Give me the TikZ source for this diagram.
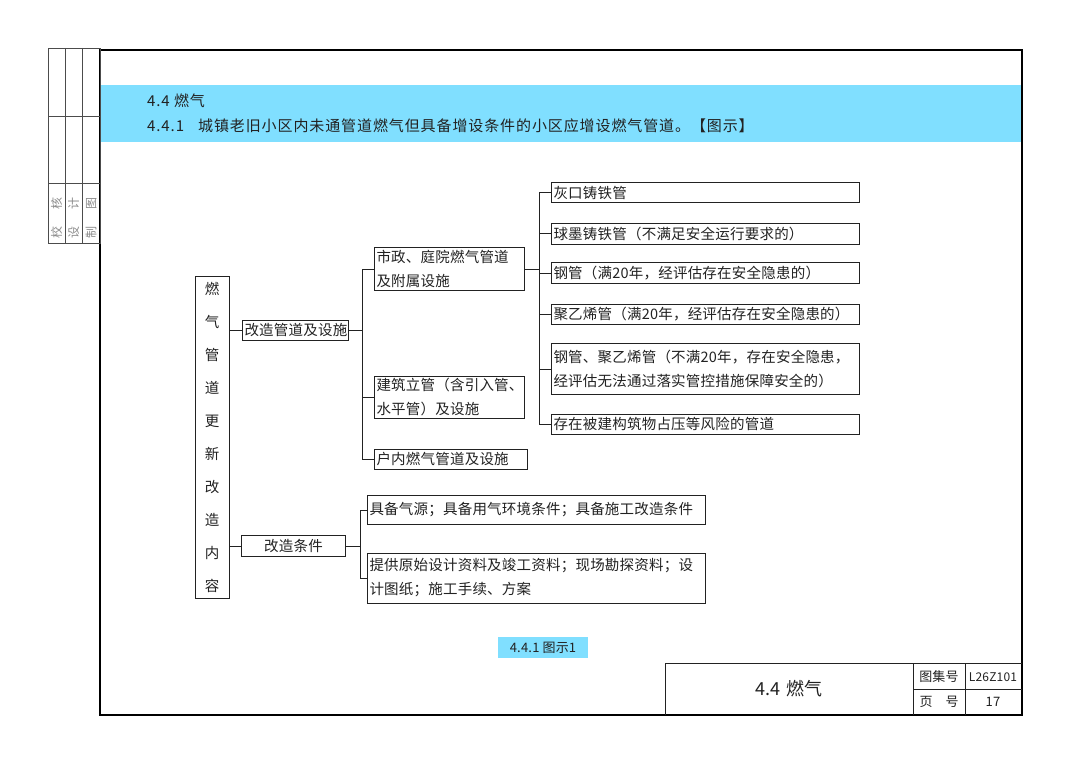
\documentclass[tikz,border=0pt]{standalone}
\usepackage{fontspec}
\setmainfont[LetterSpace=1.5]{Noto Sans CJK SC}
\newfontfamily\widefont[LetterSpace=6]{Noto Sans CJK SC}
\usetikzlibrary{positioning,calc}

\definecolor{bandblue}{HTML}{80DFFF}
\definecolor{inkgray}{HTML}{222222}

\tikzset{
  box/.style={draw=inkgray, line width=1pt, anchor=west, inner xsep=2pt, inner ysep=0pt,
    align=left, text=inkgray, font=\fontsize{14.5}{24}\selectfont},
  link/.style={draw=inkgray, line width=1pt},
  lbl/.style={text=inkgray, inner sep=0pt},
}

\begin{document}
\begin{tikzpicture}[x=1pt,y=-1pt]
  % Page
  \fill[white] (0,0) rectangle (1080,765);
  \useasboundingbox (0,0) rectangle (1080,765);

  % Header band
  \fill[bandblue] (101,85) rectangle (1021,142);
  \node[lbl, anchor=west, font=\widefont\fontsize{15}{15}\selectfont] (sec) at (147,101) {4.4 燃气};
  \node[lbl, anchor=west, font=\widefont\fontsize{15}{15}\selectfont] (sub) at (147,126)
    {4.4.1\hspace{14pt}城镇老旧小区内未通管道燃气但具备增设条件的小区应增设燃气管道。【图示】};

  % Frame
  \draw[line width=2.5pt] (100,50) rectangle (1022,715);

  % Side strip
  \draw[black!70, line width=0.8pt] (48,48) rectangle (100,243);
  \draw[black!70, line width=0.8pt] (65,48) -- (65,243) (82,48) -- (82,243)
    (48,116) -- (100,116) (48,183) -- (100,183);
  \node[lbl, rotate=90, text=black!45, font=\fontsize{12}{12}\selectfont] (chk) at (56.5,218) {校\hspace{17pt}核};
  \node[lbl, rotate=90, text=black!45, font=\fontsize{12}{12}\selectfont] (dsn) at (73.5,218) {设\hspace{17pt}计};
  \node[lbl, rotate=90, text=black!45, font=\fontsize{12}{12}\selectfont] (drw) at (91,218) {制\hspace{17pt}图};

  % Root
  \node[box, anchor=center, align=center, text width=30pt, minimum height=322pt,
    font=\fontsize{14.5}{33}\selectfont] (root) at (212,437)
    {燃\\气\\管\\道\\更\\新\\改\\造\\内\\容};

  % Level 1
  \node[box, text width=102pt, minimum height=20pt] (pipes) at (242,330) {改造管道及设施};
  \node[box, text width=100pt, align=center, minimum height=21pt] (cond) at (241,546) {改造条件};

  % Level 2
  \node[box, text width=146pt, minimum height=43pt] (muni) at (374,269) {市政、庭院燃气管道\\及附属设施};
  \node[box, text width=146pt, minimum height=42pt] (bldg) at (374,397) {建筑立管（含引入管、\\水平管）及设施};
  \node[box, text width=149pt, minimum height=20pt] (indoor) at (374,459) {户内燃气管道及设施};

  % Pipe types
  \node[box, text width=304pt, minimum height=20pt] (t1) at (551,193) {灰口铸铁管};
  \node[box, text width=304pt, minimum height=21pt] (t2) at (551,234) {球墨铸铁管（不满足安全运行要求的）};
  \node[box, text width=304pt, minimum height=21pt] (t3) at (551,273) {钢管（满20年，经评估存在安全隐患的）};
  \node[box, text width=304pt, minimum height=20pt] (t4) at (551,314) {聚乙烯管（满20年，经评估存在安全隐患的）};
  \node[box, text width=304pt, minimum height=51pt] (t5) at (551,369) {钢管、聚乙烯管（不满20年，存在安全隐患，\\经评估无法通过落实管控措施保障安全的）};
  \node[box, text width=304pt, minimum height=20pt] (t6) at (551,424) {存在被建构筑物占压等风险的管道};

  % Conditions
  \node[box, text width=334pt, minimum height=29pt] (c1) at (367,510) {具备气源；具备用气环境条件；具备施工改造条件};
  \node[box, text width=334pt, minimum height=50pt] (c2) at (367,578) {提供原始设计资料及竣工资料；现场勘探资料；设\\计图纸；施工手续、方案};

  % Connectors
  \draw[link] (root.east |- pipes.west) -- (pipes.west);
  \draw[link] (root.east |- cond.west) -- (cond.west);
  \foreach \n in {muni,bldg,indoor}
    \draw[link] (pipes.east) -- ++(13,0) |- (\n.west);
  \foreach \n in {t1,t2,t3,t4,t5,t6}
    \draw[link] (muni.east) -- ++(14,0) |- (\n.west);
  \foreach \n in {c1,c2}
    \draw[link] (cond.east) -- ++(14,0) |- (\n.west);

  % Caption
  \node[fill=bandblue, text=inkgray, minimum width=90pt, minimum height=21pt, inner sep=0pt,
    font=\fontsize{13}{13}\selectfont] (cap) at (543,647.5) {4.4.1 图示1};

  % Title block
  \draw[link] (665,715) -- (665,663) -- (1022,663);
  \draw[link] (913,663) -- (913,715) (965,663) -- (965,715) (913,689) -- (1022,689);
  \node[lbl, font=\fontsize{18}{18}\selectfont] (tbtitle) at (789,689) {4.4\hspace{6pt}燃气};
  \node[lbl, font=\fontsize{13}{13}\selectfont] (setlbl) at (939,677) {图集号};
  \node[lbl, font=\fontsize{13}{13}\selectfont] (pagelbl) at (939,702) {页\hspace{13pt}号};
  \node[lbl, font=\fontsize{12}{12}\selectfont] (setno) at (993,677) {L26Z101};
  \node[lbl, font=\fontsize{13}{13}\selectfont] (pageno) at (993,702) {17};
\end{tikzpicture}
\end{document}
